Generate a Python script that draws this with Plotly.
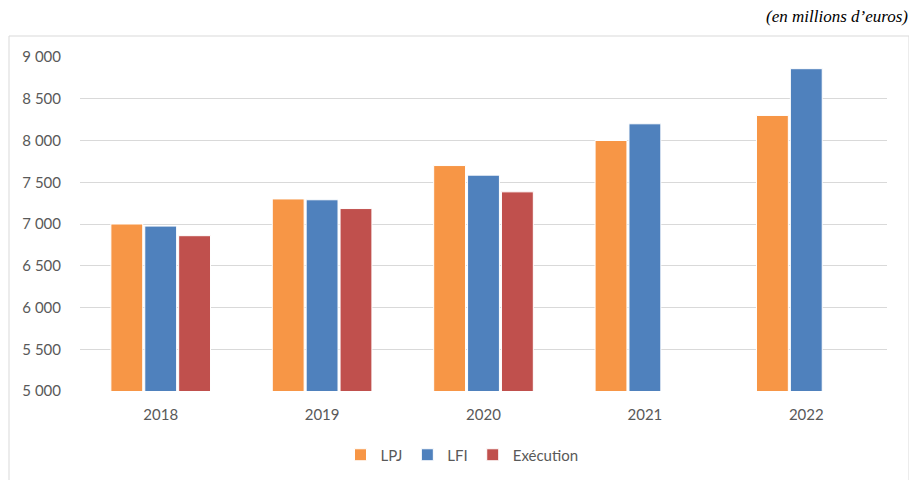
import plotly.graph_objects as go

years = ["2018", "2019", "2020", "2021", "2022"]
lpj = [7000, 7300, 7700, 8000, 8300]
lfi = [6975, 7290, 7585, 8200, 8860]
execution = [6860, 7185, 7385, None, None]

series_names = ["LPJ", "LFI", "Exécution"]
colors = ["#F79646", "#4F81BD", "#C0504D"]

# the page body adds an 8px offset; work in screen pixels and compensate
OFF = 8
L, R, T, B = 80, 887, 57, 391          # plot area in screen pixels
W, H = 917 - OFF, 480 - OFF            # figure size

fig = go.Figure()
for name, vals, col in zip(series_names, [lpj, lfi, execution], colors):
    fig.add_trace(go.Bar(
        x=years, y=vals, name=name,
        marker=dict(color=col, line=dict(color="white", width=1)),
    ))

def px_x(x):
    return (x - L) / (R - L)

def px_y(y):
    return (B - y) / (B - T)

fig.add_shape(type="rect", xref="paper", yref="paper",
              x0=px_x(9), x1=px_x(909), y0=px_y(490), y1=px_y(36),
              line=dict(color="#D9D9D9", width=1), fillcolor="rgba(0,0,0,0)",
              layer="below")

fig.add_annotation(text="(en millions d’euros)", xref="paper", yref="paper",
                   x=px_x(910), y=px_y(17), xanchor="right", yanchor="middle",
                   showarrow=False,
                   font=dict(family="Liberation Serif", size=17, color="#000000",
                             style="italic"))

fig.update_layout(
    width=W, height=H,
    margin=dict(l=L - OFF, r=W - (R - OFF), t=T - OFF, b=H - (B - OFF),
                autoexpand=False),
    paper_bgcolor="white", plot_bgcolor="white",
    barmode="group", bargap=0.37, bargroupgap=0.06,
    separators=", ",
    font=dict(family="Lato", size=15, color="#595959"),
    showlegend=True,
    legend=dict(orientation="h", x=px_x(462), xanchor="center",
                y=px_y(455), yanchor="middle",
                itemwidth=30,
                font=dict(size=15, color="#595959"),
                traceorder="normal"),
    xaxis=dict(showgrid=False, showline=False, ticks="", automargin=False,
               ticklabelstandoff=13,
               tickfont=dict(size=15, color="#595959")),
    yaxis=dict(range=[5000, 9000], dtick=500, tickformat=",d", automargin=False,
               showgrid=True, gridcolor="#D9D9D9", gridwidth=1,
               zeroline=False, showline=False, ticks="",
               ticklabelstandoff=18,
               tickfont=dict(size=15, color="#595959")),
)

fig.write_html("out.html")
